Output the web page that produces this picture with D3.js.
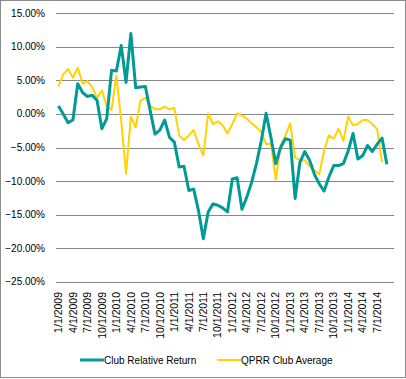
<!DOCTYPE html>
<html>
<head>
<meta charset="utf-8">
<script src="https://cdn.jsdelivr.net/npm/d3@7"></script>
<style>
  body { margin: 0; background: #fff; }
  text { font-family: "Liberation Sans", Arial, sans-serif; fill: #000; }
</style>
</head>
<body>
<div id="chart"></div>
<script>
// monthly categories
const months = [
  "1/1/2009","2/1/2009","3/1/2009","4/1/2009","5/1/2009","6/1/2009","7/1/2009","8/1/2009","9/1/2009","10/1/2009","11/1/2009","12/1/2009",
  "1/1/2010","2/1/2010","3/1/2010","4/1/2010","5/1/2010","6/1/2010","7/1/2010","8/1/2010","9/1/2010","10/1/2010","11/1/2010","12/1/2010",
  "1/1/2011","2/1/2011","3/1/2011","4/1/2011","5/1/2011","6/1/2011","7/1/2011","8/1/2011","9/1/2011","10/1/2011","11/1/2011","12/1/2011",
  "1/1/2012","2/1/2012","3/1/2012","4/1/2012","5/1/2012","6/1/2012","7/1/2012","8/1/2012","9/1/2012","10/1/2012","11/1/2012","12/1/2012",
  "1/1/2013","2/1/2013","3/1/2013","4/1/2013","5/1/2013","6/1/2013","7/1/2013","8/1/2013","9/1/2013","10/1/2013","11/1/2013","12/1/2013",
  "1/1/2014","2/1/2014","3/1/2014","4/1/2014","5/1/2014","6/1/2014","7/1/2014","8/1/2014","9/1/2014"
];

// percent values
const clubRelative = [
  1.2, 0.0, -1.3, -0.9, 4.5, 3.2, 2.6, 2.8, 2.0, -2.2, -0.7, 6.5,
  6.4, 10.2, 4.7, 12.0, 3.9, 4.0, 4.1, 0.5, -3.0, -2.4, -0.9, -3.5,
  -4.2, -7.9, -7.8, -11.4, -11.2, -14.4, -18.6, -14.6, -13.4, -13.6, -14.0, -14.6,
  -9.7, -9.5, -14.2, -12.4, -10.2, -7.4, -4.0, 0.1, -3.5, -7.4, -5.0, -3.7,
  -3.9, -12.6, -7.2, -5.6, -6.9, -9.0, -10.4, -11.5, -9.4, -7.7, -7.7, -7.4,
  -5.5, -2.9, -6.7, -6.2, -4.7, -5.6, -4.5, -3.6, -7.5
];

const qprrAverage = [
  4.1, 5.9, 6.7, 5.4, 6.9, 4.5, 4.9, 4.0, 2.4, 3.5, 1.2, 0.6,
  5.7, -1.0, -8.9, -0.4, -2.0, 2.0, 2.4, 1.2, 0.7, 0.7, 1.1, 0.7,
  0.9, -3.2, -3.9, -3.2, -2.4, -4.5, -6.2, 0.1, -1.5, -1.1, -1.7, -2.9,
  -1.5, 0.1, -0.25, -0.7, -1.4, -2.0, -2.7, -4.5, -4.4, -9.8, -4.7, -3.2,
  -1.4, -6.5, -6.9, -6.9, -7.8, -8.4, -9.0, -5.5, -3.2, -3.7, -2.2, -4.0,
  -0.4, -1.7, -1.5, -0.9, -0.9, -1.5, -2.3, -7.2
];

const yTicks = [15, 10, 5, 0, -5, -10, -15, -20, -25];
const xTickLabels = months.filter(function(d, i) { return i % 3 == 0; });

const seriesNames = ["Club Relative Return", "QPRR Club Average"];
const seriesColors = ["#009b95", "#ffd200"];

const W = 406, H = 379;
const plot = { left: 56, right: 394, top: 13.3, bottom: 281.7 };

var svg = d3.select("#chart")
  .append("svg")
    .attr("width", W)
    .attr("height", H);

// outer border
svg.append("rect")
  .attr("x", 0.5).attr("y", 0.5)
  .attr("width", W - 1).attr("height", H - 2)
  .attr("fill", "none")
  .attr("stroke", "#8c8c8c");

var x = d3.scaleBand()
  .domain(months)
  .range([plot.left, plot.left + months.length * 4.83]);

var y = d3.scaleLinear()
  .domain([-25, 15])
  .range([plot.bottom, plot.top]);

function cx(d) { return x(d) + x.bandwidth() / 2; }

// gridlines
svg.append("g")
  .selectAll("line")
  .data(yTicks)
  .enter()
  .append("line")
    .attr("x1", plot.left)
    .attr("x2", plot.right)
    .attr("y1", function(d) { return Math.round(y(d)) + 0.5; })
    .attr("y2", function(d) { return Math.round(y(d)) + 0.5; })
    .attr("stroke", "#878787")
    .attr("stroke-width", 1);

// y labels
svg.append("g")
  .selectAll("text")
  .data(yTicks)
  .enter()
  .append("text")
    .attr("x", 45)
    .attr("y", function(d) { return y(d); })
    .attr("dy", "0.35em")
    .attr("text-anchor", "end")
    .attr("font-size", 10)
    .text(function(d) { return d3.format(".2f")(d) + "%"; });

// x labels, rotated
svg.append("g")
  .selectAll("text")
  .data(xTickLabels)
  .enter()
  .append("text")
    .attr("transform", function(d) { return "translate(" + cx(d) + ",292)rotate(-90)"; })
    .attr("dy", "0.35em")
    .attr("text-anchor", "end")
    .attr("font-size", 10.5)
    .text(function(d) { return d; });

// lines
var line = d3.line()
  .x(function(d, i) { return cx(months[i]); })
  .y(function(d) { return y(d); });

svg.append("path")
  .datum(qprrAverage)
  .attr("d", line)
  .attr("fill", "none")
  .attr("stroke", seriesColors[1])
  .attr("stroke-width", 2)
  .attr("stroke-linejoin", "round");

svg.append("path")
  .datum(clubRelative)
  .attr("d", line)
  .attr("fill", "none")
  .attr("stroke", seriesColors[0])
  .attr("stroke-width", 3)
  .attr("stroke-linejoin", "round");

// legend
var legendX = [80, 217];
var legend = svg.append("g")
  .selectAll("g")
  .data(seriesNames)
  .enter()
  .append("g")
    .attr("transform", function(d, i) { return "translate(" + legendX[i] + ",360)"; });

legend.append("line")
  .attr("x1", 0).attr("x2", 24)
  .attr("stroke", function(d, i) { return seriesColors[i]; })
  .attr("stroke-width", function(d, i) { return i == 0 ? 3 : 2; });

legend.append("text")
  .attr("x", 24)
  .attr("dy", "0.35em")
  .attr("font-size", 10)
  .text(function(d) { return d; });
</script>
</body>
</html>
